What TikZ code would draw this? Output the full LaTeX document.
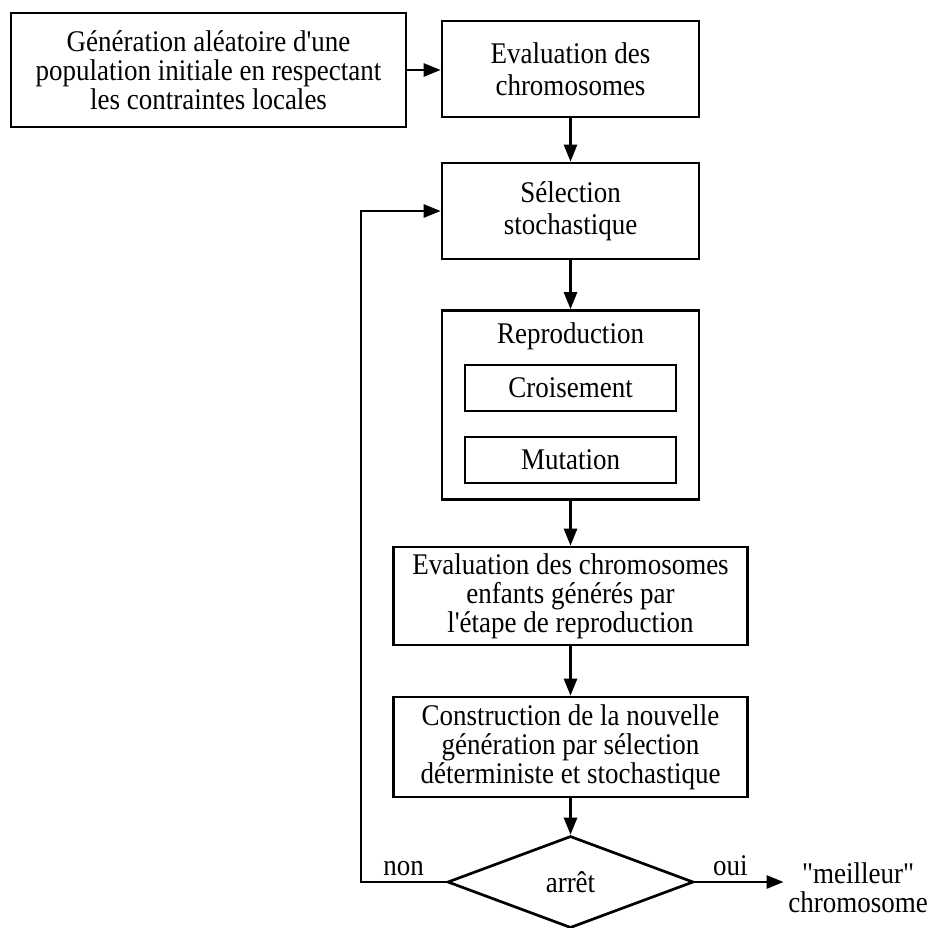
\documentclass[tikz,border=0pt]{standalone}
\usepackage{fontspec}
\setmainfont{Liberation Serif}[Ligatures=TeXOff,FakeStretch=0.9]
\usetikzlibrary{arrows.meta,shapes.geometric}

\begin{document}
\begin{tikzpicture}[x=1pt,y=-1pt,
    every node/.style={font=\fontsize{30}{29}\selectfont,align=center},
    box/.style={draw,inner sep=0pt},
    line width=2.7pt,
    >={Triangle[length=17pt,width=13pt]}  % filled heads
]
    \useasboundingbox (0,0) rectangle (932,927);

    \node[box,minimum width=395pt,minimum height=114pt] (init) at (208.5,70)
        {Génération aléatoire d'une\\population initiale en respectant\\les contraintes locales};
    \node[box,minimum width=257pt,minimum height=96pt] (evalA) at (570.5,69) {Evaluation des\\[3pt]chromosomes};
    \node[box,minimum width=257pt,minimum height=96pt] (sel) at (570.5,211) {Sélection\\[3pt]stochastique};
    \node[box,minimum width=257pt,minimum height=189pt] (repro) at (570.5,405) {};
    \node (reprotitle) at (570.5,336) {Reproduction};
    \node[box,minimum width=211pt,minimum height=46pt] (cross) at (570.5,388) {Croisement};
    \node[box,minimum width=211pt,minimum height=46pt] (mut) at (570.5,460) {Mutation};
    \node[box,minimum width=354pt,minimum height=98pt] (evalB) at (570.5,596)
        {Evaluation des chromosomes\\enfants générés par\\l'étape de reproduction};
    \node[box,minimum width=354pt,minimum height=100pt] (build) at (570.5,747)
        {Construction de la nouvelle\\génération par sélection\\déterministe et stochastique};
    \node[box,diamond,aspect=2.5,minimum width=246pt,minimum height=92pt] (stop) at (570.5,882) {\raisebox{-6pt}{arrêt}};
    \node (best) at (858,888) {"meilleur"\\chromosome};
    \coordinate (back) at (361,882);

    \draw[->] (init.east) -- (init.east -| evalA.west);
    \foreach \a/\b in {evalA/sel,sel/repro,repro/evalB,evalB/build,build/stop}
        \draw[->] (\a.south) -- (\b.north);
    \draw[->] (stop.west) -- node[above=2pt]{non} (back) |- (sel.west);
    \draw[->] (stop.east) -- node[above=2pt,pos=0.4]{oui} (stop.east -| best.west);
\end{tikzpicture}
\end{document}
